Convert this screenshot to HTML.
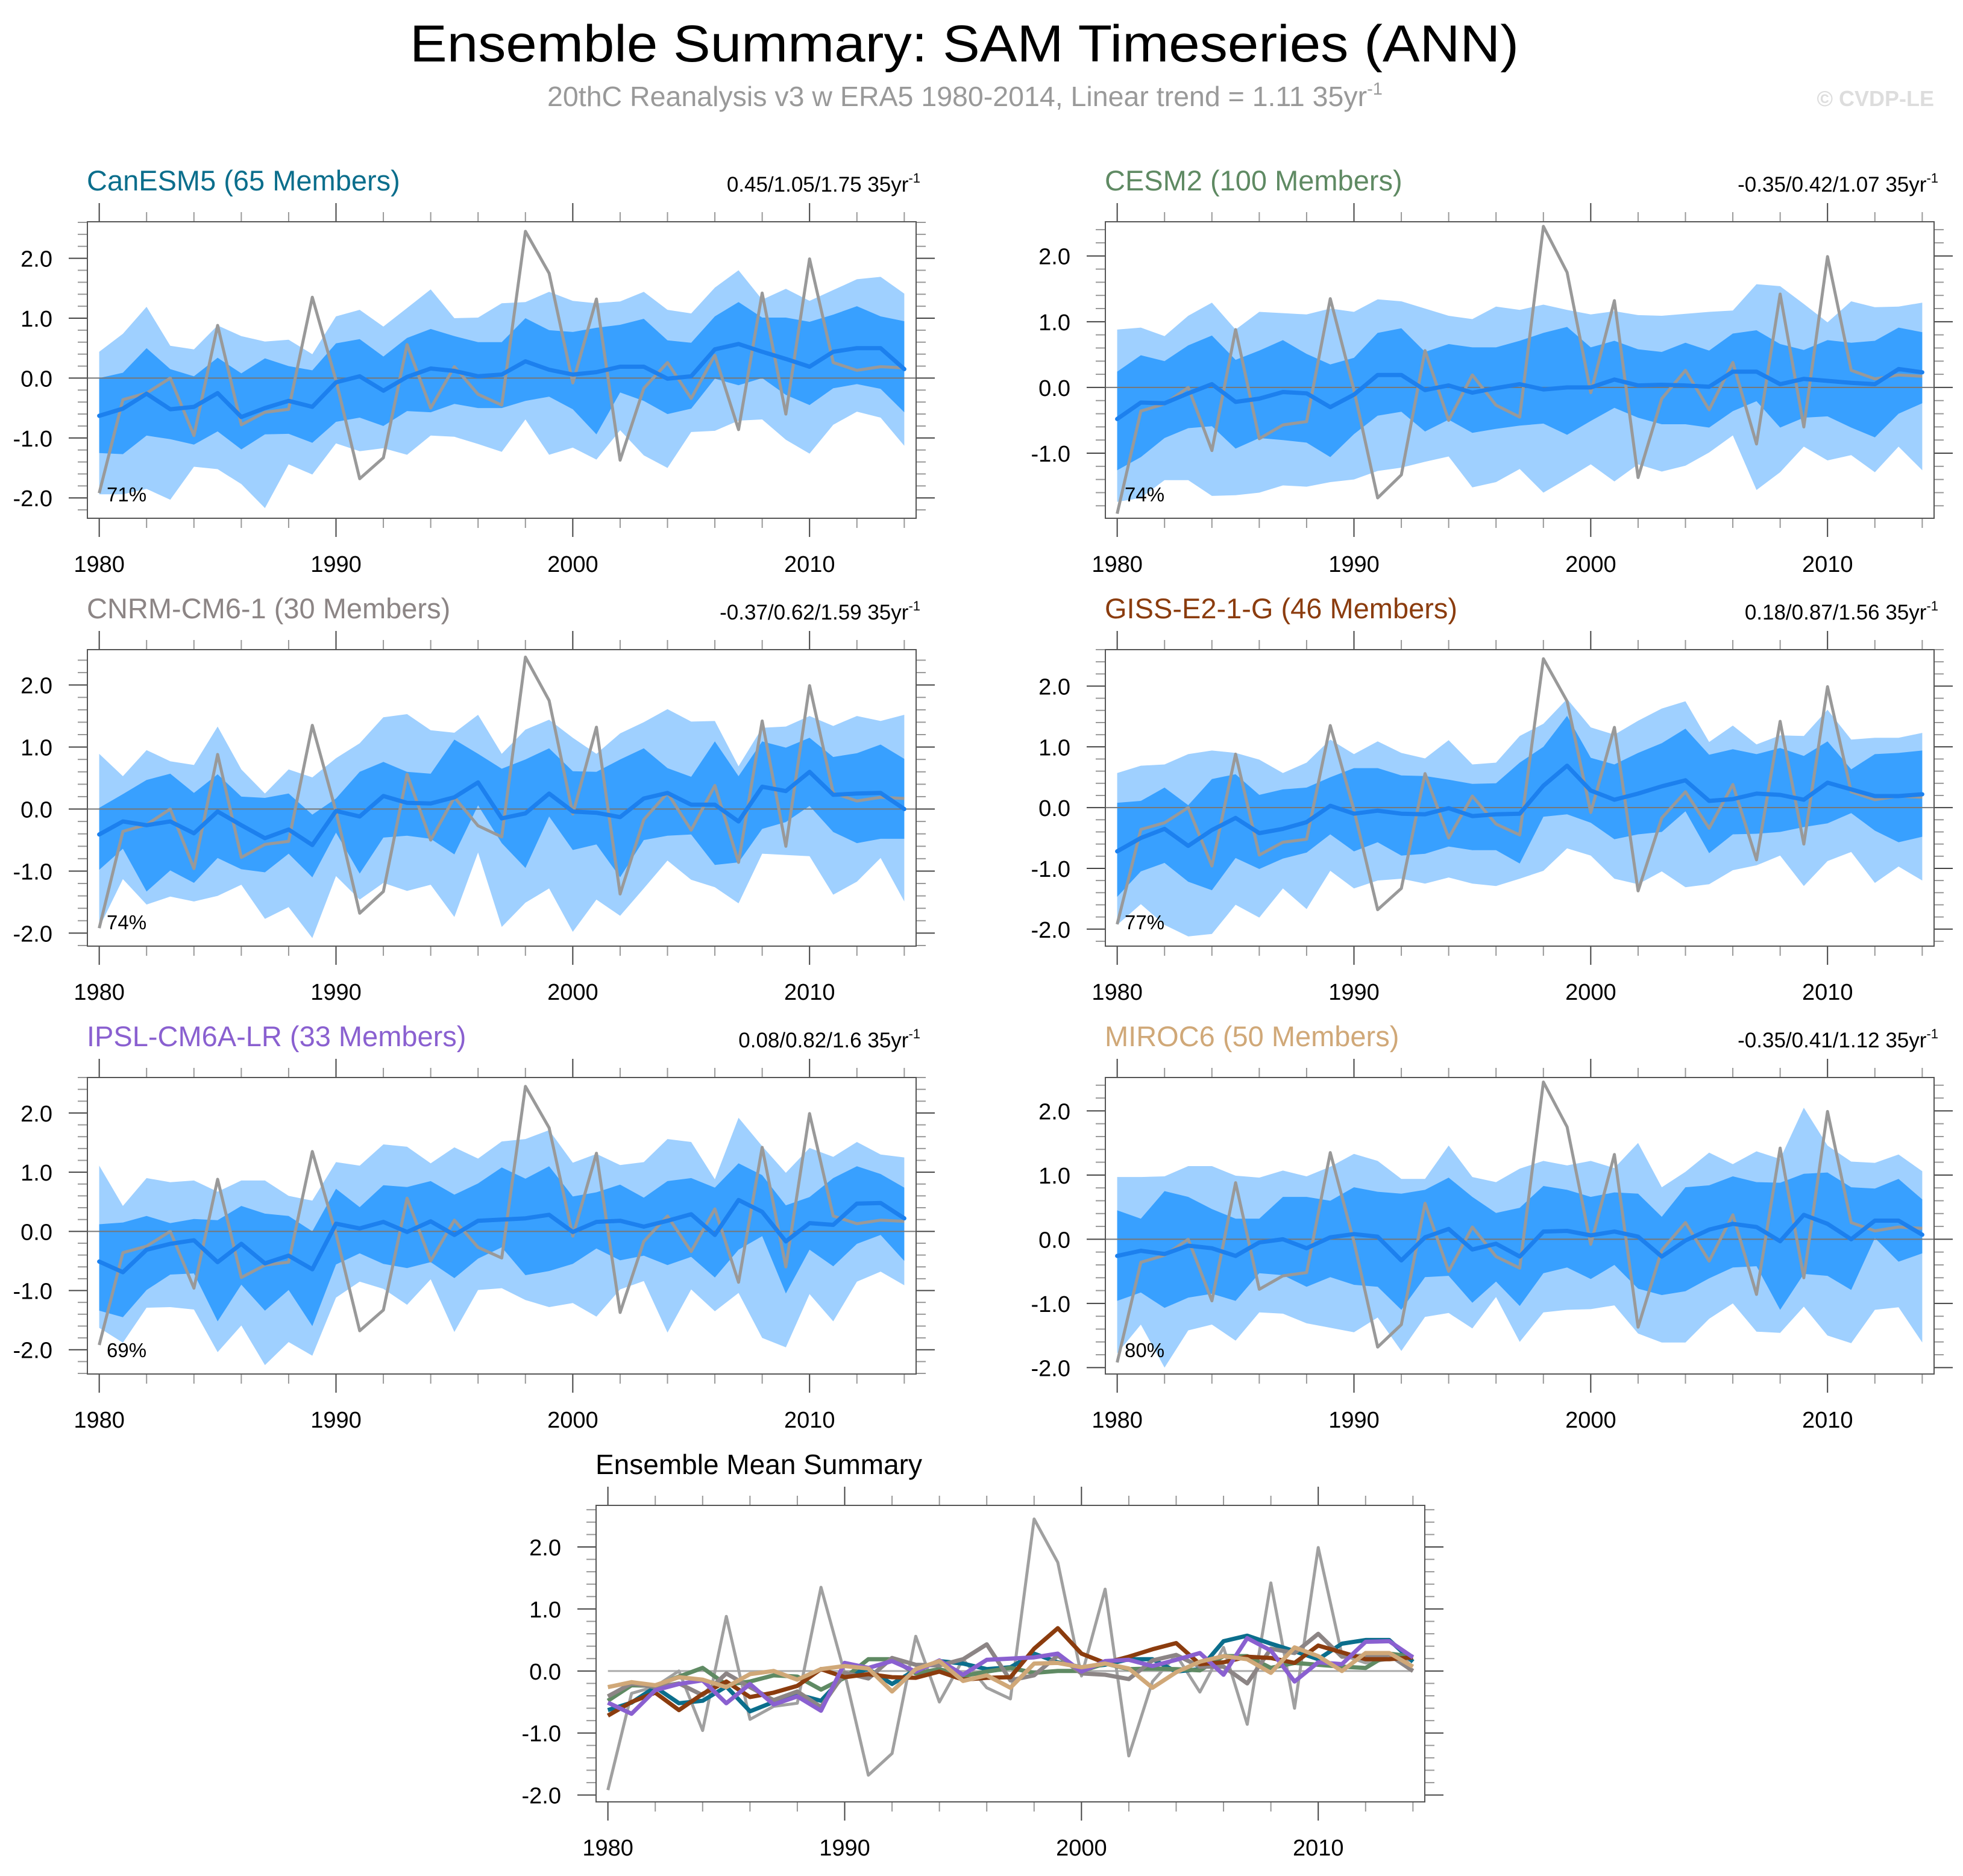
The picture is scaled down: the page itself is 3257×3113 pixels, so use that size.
<!DOCTYPE html>
<html><head><meta charset="utf-8"><title>Ensemble Summary: SAM Timeseries (ANN)</title>
<style>html,body{margin:0;padding:0;background:#fff}svg{display:block;font-family:"Liberation Sans",sans-serif}</style>
</head><body>
<svg id="chart" width="3257" height="3113" viewBox="0 0 3257 3113" xmlns="http://www.w3.org/2000/svg">
<text x="1600" y="102" font-size="86" text-anchor="middle" fill="#000" textLength="1840" lengthAdjust="spacingAndGlyphs">Ensemble Summary: SAM Timeseries (ANN)</text>
<text x="1601" y="176" font-size="46.5" text-anchor="middle" fill="#999">20thC Reanalysis v3 w ERA5 1980-2014, Linear trend = 1.11 35yr<tspan font-size="29" dy="-19">-1</tspan></text>
<text x="3209" y="176" font-size="36" font-weight="bold" text-anchor="end" fill="#ddd">© CVDP-LE</text>
</svg>
<script>
const years = [];
for (let y = 1980; y <= 2014; y++) years.push(y);
const obs = [-1.92,-0.36,-0.25,0.0,-0.96,0.88,-0.78,-0.57,-0.52,1.35,-0.04,-1.68,-1.33,0.56,-0.5,0.19,-0.27,-0.45,2.45,1.75,-0.08,1.32,-1.37,-0.17,0.26,-0.34,0.38,-0.86,1.42,-0.6,1.99,0.26,0.13,0.19,0.17];
const modelNames = ["CanESM5 (65 Members)","CESM2 (100 Members)","CNRM-CM6-1 (30 Members)","GISS-E2-1-G (46 Members)","IPSL-CM6A-LR (33 Members)","MIROC6 (50 Members)"];
const trendLabels = ["0.45/1.05/1.75 35yr","-0.35/0.42/1.07 35yr","-0.37/0.62/1.59 35yr","0.18/0.87/1.56 35yr","0.08/0.82/1.6 35yr","-0.35/0.41/1.12 35yr"];
const pctLabels = ["71%","74%","74%","77%","69%","80%"];
const modelColors = ["#0b6e8c","#5f8a63","#8c8585","#8b3c0e","#8a60d0","#d0a878"];

const meanCan = [-0.63,-0.51,-0.26,-0.52,-0.48,-0.25,-0.65,-0.5,-0.38,-0.48,-0.07,0.03,-0.21,0.02,0.16,0.12,0.03,0.06,0.28,0.14,0.06,0.1,0.19,0.19,-0.01,0.03,0.48,0.57,0.44,0.32,0.19,0.44,0.5,0.5,0.15];
const dHiCan = [0,0.09,0.5,0.15,0.03,0.34,0.08,0.33,0.2,0.13,0.58,0.65,0.36,0.67,0.82,0.7,0.6,0.6,1.0,0.8,0.77,0.84,0.89,0.99,0.63,0.59,1.03,1.27,1.01,1.01,0.94,1.06,1.2,1.03,0.95];
const dLoCan = [-1.25,-1.27,-0.96,-1.02,-1.11,-0.89,-1.19,-0.94,-0.93,-1.08,-0.73,-0.66,-0.8,-0.55,-0.57,-0.43,-0.5,-0.5,-0.38,-0.31,-0.52,-0.94,-0.24,-0.38,-0.6,-0.51,-0.01,-0.12,0,-0.28,-0.45,-0.17,-0.1,-0.18,-0.57];
const lHiCan = [0.44,0.74,1.19,0.54,0.48,0.88,0.7,0.61,0.64,0.4,1.03,1.14,0.86,1.17,1.48,1.0,1.01,1.25,1.27,1.44,1.29,1.25,1.28,1.44,1.14,1.08,1.51,1.8,1.31,1.49,1.29,1.47,1.65,1.69,1.41];
const lLoCan = [-1.94,-1.94,-1.85,-2.03,-1.48,-1.52,-1.77,-2.17,-1.44,-1.61,-1.09,-1.22,-1.17,-1.28,-0.96,-0.98,-1.1,-1.23,-0.69,-1.28,-1.16,-1.36,-0.87,-1.29,-1.5,-0.9,-0.88,-0.71,-0.69,-1.03,-1.26,-0.78,-0.56,-0.66,-1.13];

const meanCesm = [-0.48,-0.23,-0.24,-0.09,0.05,-0.22,-0.17,-0.07,-0.09,-0.3,-0.11,0.19,0.19,-0.04,0.03,-0.08,-0.01,0.05,-0.03,0,0,0.12,0.03,0.04,0.03,0.01,0.24,0.24,0.05,0.13,0.1,0.07,0.05,0.28,0.23];
const dHiCesm = [0.24,0.49,0.4,0.64,0.79,0.42,0.56,0.72,0.51,0.35,0.45,0.83,0.9,0.54,0.66,0.61,0.61,0.71,0.83,0.92,0.61,0.71,0.58,0.54,0.68,0.56,0.82,0.87,0.66,0.57,0.72,0.68,0.71,0.91,0.84];
const dLoCesm = [-1.26,-1.06,-0.77,-0.62,-0.59,-0.93,-0.77,-0.8,-0.84,-1.06,-0.71,-0.43,-0.37,-0.67,-0.49,-0.69,-0.63,-0.58,-0.55,-0.72,-0.51,-0.31,-0.46,-0.56,-0.56,-0.61,-0.36,-0.21,-0.61,-0.46,-0.44,-0.61,-0.76,-0.4,-0.24];
const lHiCesm = [0.88,0.91,0.78,1.09,1.29,0.88,1.15,1.13,1.11,1.2,1.15,1.34,1.31,1.2,1.09,1.04,1.23,1.18,1.26,1.18,1.11,1.16,1.1,1.09,1.12,1.15,1.17,1.57,1.54,1.27,0.99,1.31,1.22,1.23,1.29];
const lLoCesm = [-1.74,-1.68,-1.41,-1.41,-1.65,-1.64,-1.6,-1.49,-1.51,-1.44,-1.4,-1.27,-1.22,-1.13,-1.05,-1.52,-1.44,-1.24,-1.6,-1.39,-1.17,-1.43,-1.17,-1.28,-1.19,-0.99,-0.73,-1.56,-1.29,-0.9,-1.11,-1.03,-1.29,-0.9,-1.26];

const meanCnrm = [-0.41,-0.2,-0.26,-0.2,-0.39,-0.04,-0.26,-0.47,-0.33,-0.58,-0.03,-0.12,0.21,0.1,0.09,0.19,0.43,-0.15,-0.07,0.25,-0.04,-0.06,-0.13,0.17,0.26,0.07,0.07,-0.2,0.36,0.29,0.6,0.23,0.25,0.26,0.0];
const dHiCnrm = [0.02,0.24,0.47,0.57,0.26,0.56,0.2,0.18,0.25,-0.09,0.17,0.6,0.76,0.6,0.57,1.12,0.89,0.65,0.8,0.98,0.61,0.6,0.8,0.98,0.66,0.52,1.09,0.53,1.09,0.99,1.15,0.84,0.9,1.04,0.81];
const dLoCnrm = [-0.98,-0.64,-1.33,-0.99,-1.19,-0.79,-0.97,-1.02,-0.72,-1.1,-0.38,-1.04,-0.46,-0.43,-0.48,-0.73,0.06,-0.55,-0.95,-0.12,-0.66,-0.57,-1.1,-0.5,-0.43,-0.41,-0.9,-0.86,-0.32,-0.21,0.05,-0.37,-0.55,-0.48,-0.48];
const lHiCnrm = [0.89,0.53,0.95,0.77,0.71,1.33,0.64,0.25,0.64,0.51,0.82,1.06,1.48,1.53,1.27,1.23,1.52,0.89,1.28,1.44,1.15,0.89,1.22,1.4,1.61,1.41,1.42,0.69,1.31,1.33,1.5,1.34,1.5,1.42,1.52];
const lLoCnrm = [-1.91,-1.13,-1.54,-1.41,-1.49,-1.4,-1.22,-1.77,-1.58,-2.08,-1.08,-1.46,-1.19,-1.32,-1.22,-1.74,-0.7,-1.9,-1.51,-1.28,-1.98,-1.46,-1.72,-1.28,-0.83,-1.14,-1.26,-1.52,-0.72,-0.74,-0.76,-1.38,-1.17,-0.79,-1.49];

const meanGiss = [-0.72,-0.5,-0.35,-0.63,-0.37,-0.17,-0.42,-0.35,-0.24,0.03,-0.1,-0.05,-0.1,-0.11,-0.01,-0.14,-0.11,-0.1,0.36,0.69,0.28,0.13,0.23,0.35,0.45,0.11,0.14,0.23,0.21,0.13,0.41,0.3,0.19,0.19,0.22];
const dHiGiss = [0.08,0.11,0.33,0.04,0.47,0.55,0.21,0.3,0.33,0.5,0.65,0.65,0.53,0.52,0.46,0.39,0.4,0.74,1.0,1.51,0.82,0.71,0.9,1.06,1.3,0.87,0.96,0.88,0.98,0.85,1.09,0.63,0.88,0.9,0.94];
const dLoGiss = [-1.47,-1.05,-0.91,-1.22,-1.36,-0.83,-1.01,-0.84,-0.74,-0.44,-0.72,-0.57,-0.79,-0.76,-0.64,-0.7,-0.7,-0.92,-0.15,-0.11,-0.25,-0.52,-0.44,-0.4,-0.06,-0.75,-0.44,-0.43,-0.4,-0.32,-0.26,-0.09,-0.38,-0.57,-0.48];
const lHiGiss = [0.57,0.69,0.71,0.88,0.94,0.9,0.79,0.57,0.74,1.12,0.88,1.09,0.9,0.81,1.11,0.71,0.74,1.18,1.38,1.79,1.32,1.2,1.43,1.63,1.75,1.08,1.35,1.04,1.19,1.18,1.61,1.12,1.15,1.15,1.23];
const lLoGiss = [-1.93,-1.59,-1.93,-2.12,-2.08,-1.6,-1.81,-1.33,-1.67,-1.04,-1.33,-1.2,-1.17,-1.25,-1.15,-1.25,-1.29,-1.17,-1.04,-0.67,-0.79,-1.17,-1.26,-1.05,-1.31,-1.26,-1.03,-0.95,-0.79,-1.29,-0.88,-0.73,-1.24,-0.97,-1.2];

const meanIpsl = [-0.51,-0.69,-0.31,-0.21,-0.15,-0.52,-0.21,-0.54,-0.41,-0.64,0.13,0.05,0.16,-0.01,0.17,-0.06,0.18,0.2,0.22,0.28,-0.01,0.16,0.18,0.08,0.18,0.29,-0.06,0.53,0.33,-0.17,0.14,0.11,0.47,0.48,0.22];
const dHiIpsl = [0.12,0.15,0.26,0.14,0.21,0.19,0.43,0.3,0.26,0,0.72,0.41,0.78,0.75,0.85,0.62,0.81,1.08,0.89,1.1,0.59,0.66,0.79,0.57,0.85,0.9,0.74,1.15,0.95,0.44,0.58,0.9,1.1,0.97,0.74];
const dLoIpsl = [-1.34,-1.45,-0.99,-0.73,-0.71,-1.52,-0.9,-1.34,-0.99,-1.6,-0.56,-0.37,-0.55,-0.62,-0.52,-0.79,-0.46,-0.27,-0.74,-0.67,-0.55,-0.29,-0.49,-0.41,-0.57,-0.43,-0.78,-0.31,-0.08,-1.05,-0.31,-0.59,-0.21,-0.06,-0.5];
const lHiIpsl = [1.11,0.43,0.9,0.83,0.86,0.67,0.86,0.86,0.6,0.52,1.17,1.11,1.47,1.43,1.15,1.42,1.23,1.52,1.56,1.71,1.16,1.31,1.12,1.17,1.56,1.51,0.88,1.92,1.44,0.99,1.41,1.26,1.51,1.3,1.25];
const lLoIpsl = [-1.63,-1.88,-1.29,-1.28,-1.32,-2.04,-1.59,-2.26,-1.87,-2.1,-1.12,-0.85,-0.97,-1.24,-0.81,-1.7,-0.99,-0.96,-1.16,-1.28,-1.21,-1.44,-0.98,-0.84,-1.71,-0.98,-1.35,-1.04,-1.8,-1.96,-1.06,-1.52,-0.85,-0.68,-0.91];

const meanMiroc = [-0.26,-0.18,-0.23,-0.1,-0.14,-0.26,-0.05,0,-0.14,0.03,0.08,0.04,-0.33,0.03,0.16,-0.16,-0.07,-0.27,0.12,0.13,0.06,0.12,0.04,-0.27,-0.02,0.15,0.24,0.19,-0.03,0.38,0.24,0,0.29,0.29,0.07];
const dHiMiroc = [0.45,0.32,0.75,0.66,0.47,0.32,0.32,0.66,0.66,0.6,0.81,0.74,0.71,0.77,0.96,0.66,0.41,0.49,0.83,0.77,0.66,0.73,0.71,0.35,0.81,0.84,0.98,0.89,0.88,1.02,1.04,0.81,0.79,0.94,0.62];
const dLoMiroc = [-0.96,-0.83,-1.07,-0.91,-0.85,-0.96,-0.53,-0.56,-0.74,-0.59,-0.71,-0.74,-1.1,-0.59,-0.57,-0.99,-0.66,-1.04,-0.53,-0.44,-0.62,-0.4,-0.77,-0.87,-0.81,-0.61,-0.44,-0.42,-1.1,-0.54,-0.57,-0.79,0.02,-0.35,-0.22];
const lHiMiroc = [0.97,0.97,0.98,1.14,1.14,0.99,0.96,1.07,0.98,1.13,1.33,1.22,0.94,0.94,1.46,0.97,0.89,1.1,1.22,1.15,1.22,1.11,1.5,0.81,1.05,1.35,1.17,1.37,1.25,2.05,1.46,1.21,1.19,1.32,1.06];
const lLoMiroc = [-1.78,-1.33,-2.0,-1.42,-1.33,-1.58,-1.14,-1.16,-1.31,-1.38,-1.45,-1.22,-1.74,-1.21,-1.15,-1.39,-0.9,-1.6,-1.14,-1.1,-1.09,-1.03,-1.47,-1.61,-1.61,-1.24,-1.0,-1.44,-1.46,-1.05,-1.5,-1.62,-1.1,-1.06,-1.61];

const means = [meanCan, meanCesm, meanCnrm, meanGiss, meanIpsl, meanMiroc];
const darkHi = [dHiCan, dHiCesm, dHiCnrm, dHiGiss, dHiIpsl, dHiMiroc];
const darkLo = [dLoCan, dLoCesm, dLoCnrm, dLoGiss, dLoIpsl, dLoMiroc];
const lightHi = [lHiCan, lHiCesm, lHiCnrm, lHiGiss, lHiIpsl, lHiMiroc];
const lightLo = [lLoCan, lLoCesm, lLoCnrm, lLoGiss, lLoIpsl, lLoMiroc];
const yMins = [-2.34,-1.99,-2.21,-2.28,-2.41,-2.10,-2.11];
const yMaxs = [2.61,2.52,2.57,2.60,2.60,2.52,2.67];

const NS = "http://www.w3.org/2000/svg";
const svg = document.getElementById("chart");
function mk(tag, attrs, parent) {
  const e = document.createElementNS(NS, tag);
  for (const k in attrs) e.setAttribute(k, attrs[k]);
  (parent || svg).appendChild(e);
  return e;
}
const boxes = [
  [145,368,1520,860],[1834,368,3209,860],
  [145,1078,1520,1570],[1834,1078,3209,1570],
  [145,1788,1520,2280],[1834,1788,3209,2280],
  [989,2498,2364,2990]
];

function makeAxes(i) {
  const [x0,y0,x1,y1] = boxes[i];
  const xs = v => x0 + (v - 1979.5) / 35 * (x1 - x0);
  const ys = v => y1 - (v - yMins[i]) / (yMaxs[i] - yMins[i]) * (y1 - y0);
  return {x0,y0,x1,y1,xs,ys};
}
function linePath(vals, ax) {
  return vals.map((v,k) => (k ? "L" : "M") + ax.xs(years[k]).toFixed(1) + "," + ax.ys(v).toFixed(1)).join("");
}
function bandPath(hi, lo, ax) {
  let d = hi.map((v,k) => (k ? "L" : "M") + ax.xs(years[k]).toFixed(1) + "," + ax.ys(v).toFixed(1)).join("");
  for (let k = lo.length - 1; k >= 0; k--) d += "L" + ax.xs(years[k]).toFixed(1) + "," + ax.ys(lo[k]).toFixed(1);
  return d + "Z";
}
function drawFrame(i, g, ax) {
  const cp = mk("clipPath", {id: "clip" + i}, g);
  mk("rect", {x: ax.x0, y: ax.y0, width: ax.x1 - ax.x0, height: ax.y1 - ax.y0}, cp);
  const ticks = mk("g", {stroke: "#444", "stroke-width": 2}, g);
  
  
  for (let y = 1980; y <= 2014; y += 2) {
    const major = (y % 10 === 0);
    const L = major ? 31 : 16;
    const x = ax.xs(y);
    mk("line", {x1: x, x2: x, y1: ax.y0, y2: ax.y0 - L, stroke: major ? "#444" : "#999"}, ticks);
    mk("line", {x1: x, x2: x, y1: ax.y1, y2: ax.y1 + L, stroke: major ? "#444" : "#999"}, ticks);
    if (major) {
      const t = mk("text", {x: x, y: ax.y1 + 89, "font-size": 38, "text-anchor": "middle", fill: "#000", stroke: "none"}, g);
      t.textContent = y;
      
      
    }
  }
  const yLo = Math.ceil(yMins[i] * 5), yHi = Math.floor(yMaxs[i] * 5);
  for (let m = yLo; m <= yHi; m++) {
    const v = m / 5, y = ax.ys(v);
    const major = (m % 5 === 0);
    mk("line", {x1: ax.x0, x2: ax.x0 - (major ? 31 : 16), y1: y, y2: y, stroke: major ? "#444" : "#999"}, ticks);
    mk("line", {x1: ax.x1, x2: ax.x1 + (major ? 31 : 16), y1: y, y2: y, stroke: major ? "#444" : "#999"}, ticks);
    if (major) {
      const t = mk("text", {x: ax.x0 - 58, y: y + 14, "font-size": 38, "text-anchor": "end", fill: "#000", stroke: "none"}, g);
      t.textContent = v.toFixed(1);
      
      
    }
  }
}
function drawBox(g, ax) {
  const r = mk("rect", {x: ax.x0, y: ax.y0, width: ax.x1 - ax.x0, height: ax.y1 - ax.y0, fill: "none", stroke: "#555", "stroke-width": 2}, g);
  
  
}

for (let i = 0; i < 6; i++) {
  const g = mk("g", {});
  
  
  const ax = makeAxes(i);
  drawFrame(i, g, ax);
  const inner = mk("g", {"clip-path": "url(#clip" + i + ")"}, g);
  const lb = mk("path", {d: bandPath(lightHi[i], lightLo[i], ax), fill: "#9fd0ff"}, inner);
  
  
  const db = mk("path", {d: bandPath(darkHi[i], darkLo[i], ax), fill: "#38a0ff"}, inner);
  
  
  const zl = mk("line", {x1: ax.x0, x2: ax.x1, y1: ax.ys(0), y2: ax.ys(0), stroke: "#777", "stroke-width": 2}, inner);
  
  
  const ol = mk("path", {d: linePath(obs, ax), fill: "none", stroke: "#999", "stroke-width": 5, "stroke-linejoin": "round"}, inner);
  
  
  const ml = mk("path", {d: linePath(means[i], ax), fill: "none", stroke: "#1c80ee", "stroke-width": 7, "stroke-linejoin": "round", "stroke-linecap": "round"}, inner);
  
  
  drawBox(g, ax);
  const tt = mk("text", {x: ax.x0 - 1, y: 316 + (ax.y0 - 368), "font-size": 47, fill: modelColors[i]}, g);
  tt.textContent = modelNames[i];
  
  
  const tr = mk("text", {x: ax.x1 + 7, y: 318 + (ax.y0 - 368), "font-size": 35, "text-anchor": "end", fill: "#000"}, g);
  tr.textContent = trendLabels[i];
  const sup = mk("tspan", {"font-size": 22, dy: -15}, tr);
  sup.textContent = "-1";
  
  
  const pc = mk("text", {x: ax.x0 + 32, y: ax.y1 - 28, "font-size": 33, fill: "#000"}, g);
  pc.textContent = pctLabels[i];
  
  
}

{
  const g = mk("g", {});
  
  
  const ax = makeAxes(6);
  drawFrame(6, g, ax);
  const inner = mk("g", {"clip-path": "url(#clip6)"}, g);
  const zl = mk("line", {x1: ax.xs(1980), x2: ax.xs(2014), y1: ax.ys(0), y2: ax.ys(0), stroke: "#aaa", "stroke-width": 3}, inner);
  
  
  const ol = mk("path", {d: linePath(obs, ax), fill: "none", stroke: "#a0a0a0", "stroke-width": 5, "stroke-linejoin": "round"}, inner);
  
  
  for (let i = 0; i < 6; i++) {
    const p = mk("path", {d: linePath(means[i], ax), fill: "none", stroke: modelColors[i], "stroke-width": 7, "stroke-linejoin": "round"}, inner);
    
    
  }
  drawBox(g, ax);
  const tt = mk("text", {x: 988, y: 2446, "font-size": 46, fill: "#000"}, g);
  tt.textContent = "Ensemble Mean Summary";
  
  
}
</script>
</body></html>
